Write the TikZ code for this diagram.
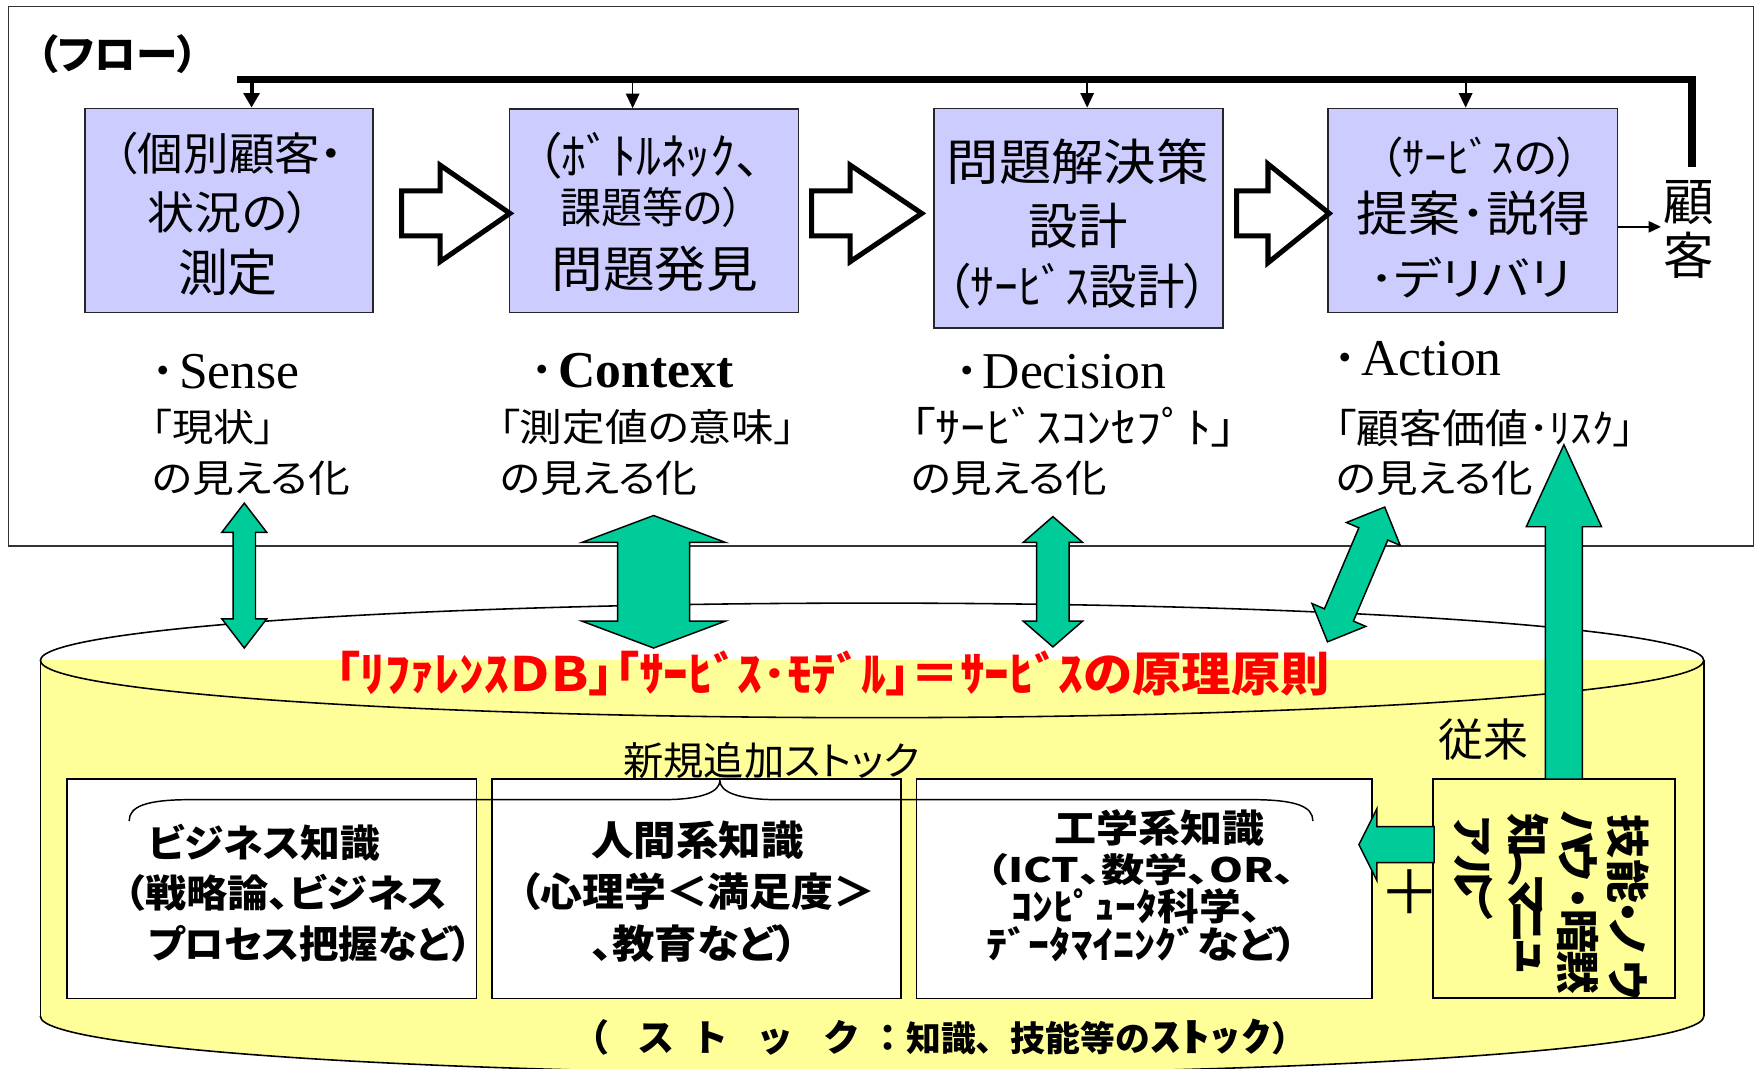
\documentclass[tikz,border=0pt]{standalone}
\usepackage{fontspec}
\usepackage{graphicx}
\setmainfont{Liberation Serif}
\newfontfamily\jp{Noto Sans CJK JP}[RawFeature=+palt]
\newfontfamily\jpf{Noto Sans CJK JP}
\newfontfamily\jpv{Noto Sans CJK JP}[Vertical=RotatedGlyphs, RawFeature=+vert]
\usetikzlibrary{arrows.meta}
\definecolor{lav}{HTML}{CCCCFF}
\definecolor{cyl}{HTML}{FFFF99}
\definecolor{grn}{HTML}{00CC99}
\newcommand\fsz[1]{\fontsize{#1}{#1}\selectfont}
\newcommand\fitw[2]{\resizebox{#1pt}{\height}{#2}}
\newcommand\ldot{\makebox[28pt]{\raisebox{5pt}{\jpf\bfseries\fsz{28}・}}}
\newcommand\vc[1]{\makebox[0pt]{#1}}
% vertical green double arrow: cx, ytop, ybot, head half, shaft half, head length
\newcommand\gdarr[6]{\draw[garrow] (#1,#2) -- ({#1+#4},{#2+#6}) -- ({#1+#5},{#2+#6}) -- ({#1+#5},{#3-#6}) -- ({#1+#4},{#3-#6}) -- (#1,#3) -- ({#1-#4},{#3-#6}) -- ({#1-#5},{#3-#6}) -- ({#1-#5},{#2+#6}) -- ({#1-#4},{#2+#6}) -- cycle;}
% white block arrow: shaft left, head base, tip x, centre y, shaft half, head half
\newcommand\blkarr[6]{\draw[blockarr] (#1,{#4-#5}) -- (#2,{#4-#5}) -- (#2,{#4-#6}) -- (#3,#4) -- (#2,{#4+#6}) -- (#2,{#4+#5}) -- (#1,{#4+#5}) -- cycle;}
\begin{document}
\begin{tikzpicture}[x=1pt,y=-1pt,
  txt/.style={inner sep=0pt, outer sep=0pt},
  fbox/.style={draw=black!85, fill=lav, line width=1.3pt, inner sep=0pt},
  wbox/.style={draw=black, fill=white, line width=1.5pt, inner sep=0pt},
  ybox/.style={draw=black, fill=cyl, line width=1.5pt, inner sep=0pt},
  frame/.style={draw=black!80, line width=1.3pt, inner sep=0pt},
  garrow/.style={fill=grn, draw=black, line width=1.3pt, line join=miter},
  blockarr/.style={fill=white, draw=black, line width=4.5pt, line join=miter},
  thickarr/.style={line width=3.5pt, -{Triangle[length=13pt,width=14pt]}},
  thinarr/.style={line width=1.3pt, -{Triangle[length=13pt,width=12pt]}},
  loopline/.style={line width=6.5pt, line join=miter},
  bracel/.style={line width=1.3pt},
  cylline/.style={draw=black, line width=1.4pt},
  vcol/.style={txt, rotate=-90, anchor=west, font={\jpv\bfseries\fsz{39}}},
]
\useasboundingbox (0,0) rectangle (1568,951);
\fill[white] (0,0) rectangle (1568,951);

% ---------- flow frame ----------
\node[frame, minimum width=1553.7pt, minimum height=480pt] (flow) at (784.55,246) {};
\node[txt, font=\jp\bfseries] (title) at (104.5,48.5) {\fitw{143}{\fsz{36}（フロー）}};

% ---------- process boxes ----------
\node[fbox, minimum width=256.3pt, minimum height=181.9pt] (b1) at (203.85,187.45) {};
\node[fbox, minimum width=257.3pt, minimum height=181.4pt] (b2) at (582.15,187.7) {};
\node[fbox, minimum width=257.5pt, minimum height=195.5pt] (b3) at (960.25,194.25) {};
\node[fbox, minimum width=257.5pt, minimum height=181.9pt] (b4) at (1311.25,187.45) {};

\node[txt, font=\jp] (b1a) at (204,137) {\fitw{203}{\fsz{40}（個別顧客・}};
\node[txt, font=\jp] (b1b) at (204,189) {\fitw{145}{\fsz{40}状況の）}};
\node[txt, font=\jp] (b1c) at (203,242.5) {\fitw{89}{\fsz{45}測定}};

\node[txt, font=\jp] (b2a) at (577.5,139) {\fitw{199}{\fsz{44}（ﾎﾞﾄﾙﾈｯｸ、}};
\node[txt, font=\jp] (b2b) at (580.5,185) {\fitw{163}{\fsz{38}課題等の）}};
\node[txt, font=\jp] (b2c) at (583,239) {\fitw{184}{\fsz{44}問題発見}};

\node[txt, font=\jp] (b3a) at (959.5,144) {\fitw{233}{\fsz{44}問題解決策}};
\node[txt, font=\jp] (b3b) at (960,201) {\fitw{88}{\fsz{44}設計}};
\node[txt, font=\jp] (b3c) at (959.5,255) {\fitw{233}{\fsz{43}（ｻｰﾋﾞｽ設計）}};

\node[txt, font=\jp] (b4a) at (1317.5,140) {\fitw{177}{\fsz{38}（ｻｰﾋﾞｽの）}};
\node[txt, font=\jp] (b4b) at (1312,190) {\fitw{208}{\fsz{43}提案･説得}};
\node[txt, font=\jp] (b4c) at (1309,247) {\fitw{180}{\fsz{40}･デリバリ}};

\node[txt, font=\jpf] (k1) at (1504,180) {\fsz{45}顧};
\node[txt, font=\jpf] (k2) at (1504,227) {\fsz{45}客};

% ---------- feedback loop ----------
\coordinate (lineL) at (210.7,70.5);
\coordinate (lineR) at (1506.6,70.5);
\coordinate (lineD) at (1506.6,148.4);
\draw[loopline] (lineD) -- (lineR) -- (lineL);
\coordinate (a1) at (224,70.5);
\coordinate (a2) at (563.3,70.5);
\coordinate (a3) at (968,70.5);
\coordinate (a4) at (1305,70.5);
\draw[thickarr] (a1) -- (a1 |- b1.north);
\draw[thinarr] (a2) -- (a2 |- b2.north);
\draw[thinarr] (a3) -- (a3 |- b3.north);
\draw[thinarr, line width=1.8pt] (a4) -- (a4 |- b4.north);
\coordinate (kin) at (1479,202);
\draw[line width=1.4pt, -{Triangle[length=11pt,width=10pt]}] (b4.east |- kin) -- (kin);

% ---------- block arrows ----------
\blkarr{357.6}{391.8}{454}{190}{20}{43}
\blkarr{722.7}{757}{820.7}{190}{20}{43}
\blkarr{1101}{1129}{1183.5}{190}{20}{44}

% ---------- labels ----------
\node[txt, anchor=base west] (sense) at (131.5,346) {\ldot\fsz{46}Sense};
\node[txt, font=\jp] (sense2) at (190,380) {\fitw{110}{\fsz{34}「現状」}};
\node[txt, font=\jp] (sense3) at (223.5,426) {\fitw{176}{\fsz{34}の見える化}};

\node[txt, anchor=base west] (context) at (469,345) {\ldot\fsz{46}\bfseries Context};
\node[txt, font=\jp] (context2) at (576,380) {\fitw{264}{\fsz{34}「測定値の意味」}};
\node[txt, font=\jp] (context3) at (533,426) {\fitw{176}{\fsz{34}の見える化}};

\node[txt, anchor=base west] (decision) at (847,345.6) {\ldot\fsz{46}Decision};
\node[txt, font=\jp] (decision2) at (956,380) {\fitw{290}{\fsz{38}「ｻｰﾋﾞｽｺﾝｾﾌﾟﾄ」}};
\node[txt, font=\jp] (decision3) at (898.5,426) {\fitw{175}{\fsz{34}の見える化}};

\node[txt, anchor=base west] (action) at (1184,334) {\ldot\fsz{46}Action};
\node[txt, font=\jp] (action2) at (1322.5,381) {\fitw{267}{\fsz{36}「顧客価値･ﾘｽｸ」}};
\node[txt, font=\jp] (action3) at (1277.5,426) {\fitw{175}{\fsz{34}の見える化}};

% ---------- cylinder ----------
\fill[cyl] (36,588) rectangle (1517,905);
\fill[cyl] (776.5,905) ellipse [x radius=740.5, y radius=51];
\begin{scope}
  \clip (0,905) rectangle (1568,1000);
  \draw[cylline] (776.5,905) ellipse [x radius=740.5, y radius=51];
\end{scope}
\draw[cylline] (36,588) -- (36,905);
\draw[cylline] (1517,588) -- (1517,905);
\draw[cylline] (776.5,588) ellipse [x radius=740.5, y radius=51];

\node[txt, font=\jp\bfseries, text=red] (refdb) at (741.5,600) {\fitw{885}{\fsz{42}「ﾘﾌｧﾚﾝｽＤＢ」「ｻｰﾋﾞｽ･ﾓﾃﾞﾙ」＝ｻｰﾋﾞｽの原理原則}};
\node[txt, font=\jp] (newstock) at (686.8,677) {\fitw{264}{\fsz{35}新規追加ストック}};

% ---------- knowledge boxes ----------
\node[wbox, minimum width=365pt, minimum height=195.5pt] (w1) at (241.9,791.25) {};
\node[wbox, minimum width=364.7pt, minimum height=195.5pt] (w2) at (620.15,791.25) {};
\node[wbox, minimum width=405.5pt, minimum height=195.5pt] (w3) at (1018.75,791.25) {};
\node[ybox, minimum width=215.5pt, minimum height=194.9pt] (yb) at (1383.75,791.05) {};

\node[txt, font=\jp\bfseries] (w1a) at (235.5,750.6) {\fitw{206}{\fsz{34}ビジネス知識}};
\node[txt, font=\jp\bfseries] (w1b) at (254.4,795) {\fitw{287}{\fsz{34}（戦略論、ビジネス}};
\node[txt, font=\jp\bfseries] (w1c) at (276,840.7) {\fitw{288}{\fsz{34}プロセス把握など）}};

\node[txt, font=\jp\bfseries] (w2a) at (621,748) {\fitw{189}{\fsz{36}人間系知識}};
\node[txt, font=\jp\bfseries] (w2b) at (621,794) {\fitw{317}{\fsz{35}（心理学＜満足度＞}};
\node[txt, font=\jp\bfseries] (w2c) at (618.5,840) {\fitw{184}{\fsz{35}、教育など）}};

\node[txt, font=\jp\bfseries] (w3a) at (1032.3,737) {\fitw{187}{\fsz{34}工学系知識}};
\node[txt, font=\jp\bfseries] (w3b) at (1016,774) {\fitw{275}{\fsz{30}（ICT、数学、OR、}};
\node[txt, font=\jp\bfseries] (w3c) at (1012,807) {\fitw{223}{\fsz{33}ｺﾝﾋﾟｭｰﾀ科学、}};
\node[txt, font=\jp\bfseries] (w3d) at (1017,841) {\fitw{277}{\fsz{33}ﾃﾞｰﾀﾏｲﾆﾝｸﾞなど）}};

% vertical text in the yellow box (one vertical line per column, glyph centres placed)
\node[vcol] (col1) at (1450,745) {\vc{技}\hspace{40pt}\vc{能}\hspace{27pt}\vc{・}\hspace{23pt}\vc{ノ}\hspace{38pt}\vc{ウ}};
\node[vcol] (col2) at (1405,740) {\vc{ハ}\hspace{27pt}\vc{ウ}\hspace{33pt}\vc{・}\hspace{29pt}\vc{暗}\hspace{36.5pt}\vc{黙}};
\node[vcol] (col3) at (1360.5,743.5) {\vc{知}\hspace{26pt}\vc{（}\hspace{27.5pt}\vc{マ}\hspace{24pt}\vc{ニ}\hspace{26.5pt}\vc{ュ}};
\node[vcol] (col4) at (1312.5,743.5) {\vc{ア}\hspace{35.5pt}\vc{ル}\hspace{21pt}\vc{）}};

% brace over the knowledge boxes
\draw[bracel] (115,731) .. controls (115,718) and (130,712) .. (170,712) -- (590,712)
  .. controls (625,712) and (641,705) .. (641,695)
  .. controls (641,705) and (657,712) .. (692,712) -- (1114,712)
  .. controls (1154,712) and (1169,718) .. (1169,731);

\node[txt, font=\jpf] (juurai) at (1321,658.5) {\fitw{80}{\fsz{40}従来}};
\node[txt, font=\jpf] (plus) at (1255.5,794.5) {\fsz{54}＋};
\node[txt, anchor=west, font=\jpf\bfseries] (stock) at (510,923.5) {\fsz{33}（\hspace{25pt}ス\hspace{15pt}ト\hspace{25pt}ッ\hspace{26pt}ク\hspace{8pt}：\fsz{31}知識、技能等の\fitw{108}{\fsz{35}ｽﾄｯｸ}）};

% ---------- green arrows ----------
\gdarr{217.5}{448}{577}{20}{10}{26}
\gdarr{582}{459}{577}{64}{32}{24}
\gdarr{937.5}{460}{576}{26.5}{14.5}{23}
\begin{scope}[shift={(1182,571.5)}, rotate=-23]
  \gdarr{0}{-130.4}{0}{26}{14}{26}
\end{scope}
\draw[garrow] (1392.5,396) -- (1426,469) -- (1409,469) -- (1409,693.6) -- (1376,693.6) -- (1376,469) -- (1359,469) -- cycle;
\draw[garrow] (1210,752) -- (1226,720) -- (1226,736) -- (1277,736) -- (1277,768) -- (1226,768) -- (1226,784) -- cycle;
\end{tikzpicture}
\end{document}
